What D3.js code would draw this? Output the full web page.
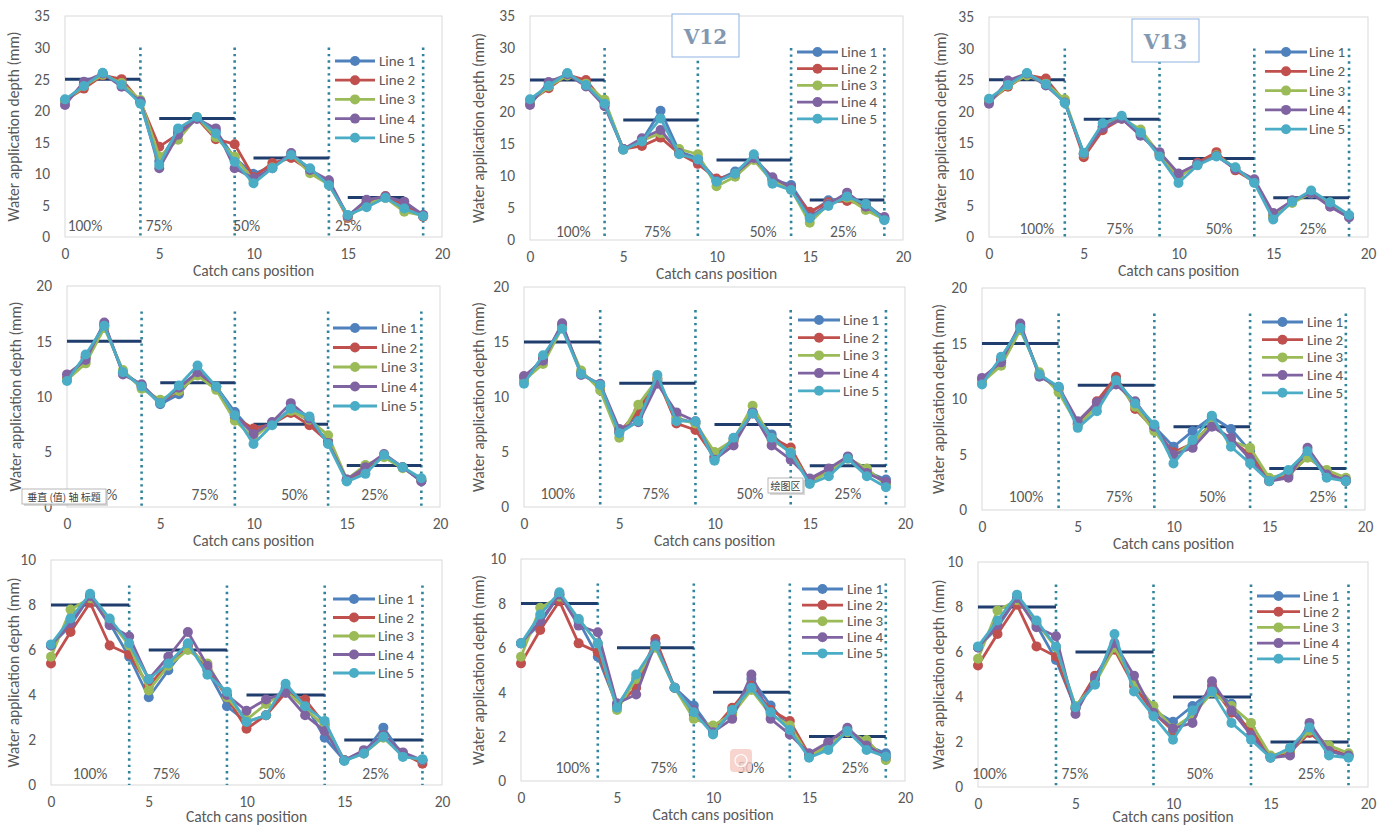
<!DOCTYPE html>
<html>
<head>
<meta charset="utf-8">
<script src="https://cdn.jsdelivr.net/npm/d3@7"></script>
<style>
  body { margin: 0; background: #fff; }
  svg { display: block; }
  text { font-family: Carlito, Calibri, Lato, "Open Sans", sans-serif; }
</style>
</head>
<body>
<div id="chart"></div>
<script>
// ---- data ----
const positions = [0, 1, 2, 3, 4, 5, 6, 7, 8, 9, 10, 11, 12, 13, 14, 15, 16, 17, 18, 19];
const seriesNames = ["Line 1", "Line 2", "Line 3", "Line 4", "Line 5"];
const zoneLabels = ["100%", "75%", "50%", "25%"];
const dividerPositions = [4, 9, 14, 19];
const panelTitles = ["", "V12", "V13", "", "", "", "", "", ""];
const yMaxByRow = [35, 20, 10];
const yTicksByRow = [[0, 5, 10, 15, 20, 25, 30, 35], [0, 5, 10, 15, 20], [0, 2, 4, 6, 8, 10]];
const xTicks = [0, 5, 10, 15, 20];
const meanDepthsByRow = [[25, 18.75, 12.5, 6.25], [15, 11.25, 7.5, 3.75], [8, 6, 4, 2]];

const depthsR1C1 = [
  [21.5, 24.2, 25.8, 24.5, 21.3, 12.0, 16.8, 18.9, 16.8, 12.5, 10.0, 11.2, 13.0, 10.6, 8.6, 3.4, 5.4, 6.3, 5.2, 3.4],
  [21.6, 23.5, 25.6, 25.0, 21.4, 14.3, 16.3, 18.8, 15.5, 14.7, 9.5, 11.7, 12.5, 10.5, 8.5, 3.0, 5.6, 6.5, 5.0, 3.2],
  [21.4, 23.9, 25.7, 24.4, 21.7, 12.7, 15.4, 19.0, 15.8, 12.7, 9.0, 11.0, 13.1, 10.1, 8.3, 3.2, 5.2, 6.2, 4.0, 3.4],
  [20.9, 24.6, 25.9, 23.8, 21.5, 10.9, 16.2, 18.7, 17.2, 10.9, 9.3, 10.9, 13.3, 10.6, 9.0, 3.3, 5.9, 6.4, 5.6, 3.5],
  [21.8, 23.9, 26.0, 24.1, 21.1, 11.4, 17.2, 19.0, 16.4, 11.9, 8.5, 10.9, 13.0, 10.9, 8.2, 3.5, 4.7, 6.2, 4.5, 3.3]
];
const depthsR1C2 = [
  [21.6, 24.2, 25.9, 24.5, 21.5, 14.2, 15.5, 20.2, 13.8, 12.8, 9.3, 10.7, 12.8, 9.4, 8.6, 4.2, 6.2, 6.5, 5.7, 3.4],
  [21.7, 23.7, 25.8, 25.0, 21.4, 14.2, 14.7, 16.0, 13.5, 11.9, 9.6, 10.2, 12.6, 9.4, 8.0, 4.4, 5.9, 6.1, 5.5, 3.3],
  [21.5, 24.0, 25.7, 24.4, 21.9, 14.1, 15.5, 16.7, 14.2, 13.4, 8.4, 9.9, 12.5, 9.2, 7.9, 2.7, 5.6, 6.6, 4.7, 3.2],
  [21.1, 24.7, 25.9, 24.0, 20.9, 14.2, 15.9, 17.2, 13.6, 12.5, 9.2, 10.4, 12.8, 9.8, 8.2, 3.6, 5.6, 7.4, 5.2, 3.6],
  [22.0, 24.1, 26.1, 24.2, 21.3, 14.1, 15.4, 19.0, 13.4, 12.6, 9.1, 10.4, 13.4, 8.8, 7.8, 3.4, 5.3, 6.8, 5.6, 3.1]
];
const depthsR1C3 = [
  [21.6, 24.3, 25.9, 24.6, 21.5, 13.1, 17.6, 18.9, 16.7, 13.2, 9.7, 11.6, 13.0, 10.9, 8.9, 3.3, 5.8, 6.9, 5.4, 3.4],
  [21.6, 23.9, 25.8, 25.2, 21.5, 12.7, 17.0, 18.8, 16.4, 13.1, 9.5, 11.8, 13.5, 10.6, 8.8, 3.2, 5.7, 7.0, 5.3, 3.3],
  [21.5, 24.1, 25.7, 24.4, 21.9, 13.2, 17.5, 18.9, 17.1, 13.2, 9.6, 11.5, 13.0, 11.0, 8.7, 3.3, 5.4, 7.0, 5.5, 3.4],
  [21.2, 24.9, 26.0, 24.1, 21.4, 13.3, 17.4, 18.8, 16.1, 13.5, 10.1, 11.6, 12.9, 10.8, 9.2, 3.8, 5.8, 7.0, 4.8, 3.1],
  [22.0, 24.2, 26.1, 24.3, 21.3, 13.4, 18.1, 19.3, 16.6, 12.8, 8.6, 11.4, 12.8, 11.1, 8.6, 2.8, 5.6, 7.4, 5.5, 3.5]
];
const depthsR2C1 = [
  [11.6, 13.6, 16.5, 12.2, 11.0, 9.3, 10.2, 12.3, 10.9, 8.6, 6.7, 7.6, 8.8, 7.8, 5.9, 2.4, 3.3, 4.6, 3.6, 2.4],
  [11.6, 13.5, 16.4, 12.2, 10.9, 9.5, 10.5, 12.0, 10.8, 8.1, 7.1, 7.5, 8.5, 7.4, 5.9, 2.4, 3.5, 4.6, 3.6, 2.4],
  [11.5, 13.0, 16.2, 12.4, 10.7, 9.7, 10.5, 11.9, 10.6, 7.8, 6.3, 7.6, 8.7, 7.9, 6.5, 2.5, 3.8, 4.5, 3.5, 2.5],
  [12.0, 13.3, 16.7, 12.0, 11.1, 9.4, 10.8, 12.2, 10.9, 8.3, 6.6, 7.7, 9.4, 8.0, 5.8, 2.5, 3.6, 4.8, 3.6, 2.3],
  [11.4, 13.8, 16.4, 12.2, 10.9, 9.4, 11.0, 12.8, 10.9, 8.3, 5.7, 7.4, 8.9, 8.2, 5.7, 2.3, 3.0, 4.7, 3.6, 2.6]
];
const depthsR2C2 = [
  [11.6, 13.6, 16.5, 12.2, 11.0, 6.9, 8.3, 11.5, 8.1, 7.6, 4.6, 6.2, 8.6, 6.6, 5.0, 2.4, 3.2, 4.5, 3.2, 2.5],
  [11.6, 13.5, 16.4, 12.2, 11.0, 6.8, 8.7, 11.7, 7.6, 7.0, 4.5, 6.0, 8.5, 6.3, 5.4, 2.3, 3.3, 4.5, 3.3, 2.2],
  [11.5, 13.0, 16.3, 12.4, 10.6, 6.3, 9.3, 11.6, 8.0, 7.6, 5.0, 6.1, 9.2, 6.1, 5.0, 2.2, 3.2, 4.4, 3.5, 2.0],
  [11.9, 13.3, 16.7, 12.0, 11.2, 7.1, 7.7, 11.2, 8.6, 7.8, 4.3, 5.6, 8.6, 5.6, 4.3, 2.6, 3.5, 4.6, 3.1, 2.3],
  [11.2, 13.8, 16.2, 12.1, 11.1, 6.7, 7.8, 12.0, 7.8, 7.8, 4.2, 6.3, 8.5, 6.3, 4.9, 2.1, 2.8, 4.4, 2.8, 1.8]
];
const depthsR2C3 = [
  [11.6, 13.6, 16.6, 12.2, 11.0, 7.8, 9.5, 11.8, 9.5, 7.5, 5.7, 7.1, 8.4, 7.3, 5.3, 2.7, 3.4, 5.0, 3.2, 2.7],
  [11.6, 13.5, 16.5, 12.2, 10.9, 7.7, 9.8, 12.0, 9.1, 7.3, 5.2, 6.0, 7.8, 6.3, 5.0, 2.6, 3.1, 4.8, 3.4, 2.6],
  [11.5, 13.0, 16.2, 12.4, 10.6, 7.6, 9.3, 11.6, 9.3, 7.1, 4.9, 6.1, 7.7, 6.2, 5.6, 2.9, 3.3, 4.7, 3.6, 2.9],
  [11.9, 13.3, 16.8, 12.0, 11.1, 8.0, 9.7, 11.3, 9.8, 7.5, 5.0, 5.6, 7.5, 6.5, 4.6, 2.6, 2.9, 5.6, 3.2, 2.7],
  [11.3, 13.8, 16.4, 12.2, 11.1, 7.4, 8.9, 11.7, 9.6, 7.7, 4.2, 6.3, 8.5, 5.7, 4.2, 2.6, 3.6, 5.3, 2.9, 2.6]
];
const depthsR3C1 = [
  [6.2, 7.1, 8.4, 7.2, 5.7, 3.9, 5.1, 6.2, 5.1, 3.5, 2.8, 3.1, 4.3, 3.6, 2.1, 1.1, 1.4, 2.55, 1.3, 1.1],
  [5.4, 6.8, 8.1, 6.2, 5.8, 4.4, 5.4, 6.2, 5.2, 3.9, 2.5, 3.1, 4.1, 3.8, 2.7, 1.1, 1.5, 2.2, 1.4, 0.95],
  [5.7, 7.8, 8.3, 7.3, 6.2, 4.2, 5.3, 6.0, 5.4, 3.9, 2.9, 3.6, 4.2, 3.4, 2.6, 1.1, 1.4, 2.1, 1.3, 1.1],
  [6.2, 7.2, 8.4, 7.1, 6.6, 4.7, 5.7, 6.8, 5.3, 4.0, 3.3, 3.8, 4.1, 3.1, 2.4, 1.1, 1.55, 2.2, 1.45, 1.1],
  [6.25, 7.4, 8.5, 7.4, 6.3, 4.7, 5.4, 6.3, 4.9, 4.15, 2.8, 3.1, 4.5, 3.5, 2.85, 1.07, 1.4, 2.15, 1.25, 1.15]
];
const depthsR3C2 = [
  [6.2, 7.1, 8.4, 7.2, 5.6, 3.4, 4.6, 6.2, 4.2, 3.4, 2.2, 3.1, 4.6, 3.4, 2.4, 1.2, 1.5, 2.3, 1.6, 1.25],
  [5.3, 6.8, 8.1, 6.2, 5.8, 3.4, 4.2, 6.4, 4.2, 3.0, 2.3, 3.3, 4.3, 3.2, 2.7, 1.2, 1.6, 2.2, 1.7, 1.0],
  [5.6, 7.8, 8.3, 7.3, 6.2, 3.2, 4.6, 6.0, 4.2, 2.8, 2.5, 3.0, 4.1, 3.0, 2.5, 1.1, 1.6, 2.2, 1.85, 0.95],
  [6.2, 7.2, 8.4, 7.0, 6.7, 3.5, 3.9, 6.2, 4.2, 3.2, 2.2, 2.8, 4.8, 2.8, 2.1, 1.25, 1.75, 2.4, 1.6, 1.1],
  [6.2, 7.5, 8.5, 7.3, 6.2, 3.3, 4.8, 6.1, 4.2, 3.1, 2.1, 3.2, 4.2, 3.1, 2.3, 1.05, 1.4, 2.25, 1.4, 1.1]
];
const depthsR3C3 = [
  [6.2, 7.1, 8.4, 7.2, 5.65, 3.5, 4.8, 6.3, 4.6, 3.4, 2.9, 3.6, 4.3, 3.7, 2.3, 1.35, 1.6, 2.6, 1.6, 1.35],
  [5.4, 6.8, 8.1, 6.25, 5.8, 3.5, 4.95, 6.1, 4.5, 3.3, 2.5, 3.2, 4.5, 3.3, 2.55, 1.35, 1.55, 2.4, 1.7, 1.4],
  [5.7, 7.85, 8.3, 7.3, 6.2, 3.6, 4.6, 6.2, 4.65, 3.6, 2.6, 3.2, 4.2, 3.6, 2.85, 1.4, 1.6, 2.5, 1.85, 1.5],
  [6.2, 7.2, 8.4, 7.1, 6.7, 3.25, 4.85, 6.4, 4.95, 3.3, 2.6, 2.85, 4.7, 3.4, 2.3, 1.3, 1.4, 2.85, 1.6, 1.4],
  [6.25, 7.4, 8.55, 7.4, 6.25, 3.55, 4.55, 6.8, 4.25, 3.15, 2.1, 3.4, 4.25, 2.85, 2.1, 1.3, 1.75, 2.65, 1.4, 1.3]
];
const panelDepths = [depthsR1C1, depthsR1C2, depthsR1C3, depthsR2C1, depthsR2C2, depthsR2C3, depthsR3C1, depthsR3C2, depthsR3C3];

// ---- layout / style ----
const W = 1391, H = 827;
const colors = ["#4F81BD", "#C0504D", "#9BBB59", "#8064A2", "#4BACC6"];
const meanColor = "#1F3D6D";
const dotColor = "#31849B";
const textColor = "#595959";
const fontFamily = "Carlito, Calibri, Lato, sans-serif";

// plot frames in pixels, legend position, where the zone labels sit (data units)
const frames = [
  {x0: 65, x1: 442, top: 16, bot: 237, ytx: 13, leg: [335, 375, 379, 61, 19.2], zx: [1.06, 4.99, 9.64, 15.03], zy: 1.9, dotTop: 30, lastBar: 18},
  {x0: 530, x1: 903, top: 16, bot: 240, ytx: 478, leg: [797, 838, 841, 52, 16.7], zx: [2.32, 6.84, 12.5, 16.8], zy: 1.3, dotTop: 30, lastBar: 19},
  {x0: 989, x1: 1368, top: 17, bot: 237, ytx: 940, leg: [1265, 1307, 1309, 52, 19.3], zx: [2.52, 6.91, 12.14, 17.1], zy: 1.4, dotTop: 30, lastBar: 19},
  {x0: 67, x1: 440, top: 286, bot: 507, ytx: 15, leg: [333, 377, 381, 328, 19.5], zx: [1.77, 7.4, 12.2, 16.5], zy: 1.1, dotTop: 17.7, lastBar: 19},
  {x0: 524, x1: 905, top: 287, bot: 507, ytx: 478, leg: [798, 840, 843, 320, 17.7], zx: [1.77, 6.93, 11.86, 17.0], zy: 1.25, dotTop: 17.9, lastBar: 19},
  {x0: 982, x1: 1365, top: 288, bot: 510, ytx: 938, leg: [1262, 1303, 1307, 322, 17.7], zx: [2.3, 7.17, 12.04, 17.8], zy: 1.2, dotTop: 17.7, lastBar: 19},
  {x0: 51, x1: 442, top: 560, bot: 785, ytx: 13, leg: [333, 375, 378, 599, 18.5], zx: [2.0, 5.9, 11.3, 16.6], zy: 0.53, dotTop: 8.87, lastBar: 19},
  {x0: 521, x1: 905, top: 559, bot: 781, ytx: 478, leg: [802, 843, 847, 589, 16.1], zx: [2.7, 7.45, 11.98, 17.4], zy: 0.59, dotTop: 8.9, lastBar: 19},
  {x0: 978, x1: 1368, top: 562, bot: 787, ytx: 938, leg: [1257, 1300, 1303, 596, 15.7], zx: [0.59, 4.97, 11.38, 17.1], zy: 0.62, dotTop: 9.0, lastBar: 19}
];
const titleBoxes = [null, {x: 672, y: 14, w: 67, h: 43}, {x: 1132, y: 19, w: 67, h: 43}];

const svg = d3.select("#chart").append("svg")
  .attr("width", W).attr("height", H);

frames.forEach((f, i) => {
  const row = Math.floor(i / 3);
  const depths = panelDepths[i];
  const x = d3.scaleLinear().domain([0, 20]).range([f.x0, f.x1]);
  const y = d3.scaleLinear().domain([0, yMaxByRow[row]]).range([f.bot, f.top]);
  const g = svg.append("g");

  // plot area frame
  g.append("rect")
    .attr("x", f.x0).attr("y", f.top)
    .attr("width", f.x1 - f.x0).attr("height", f.bot - f.top)
    .attr("fill", "none").attr("stroke", "#D9D9D9").attr("stroke-width", 1);

  // axes
  const yAxis = g.append("g")
    .attr("transform", `translate(${f.x0},0)`)
    .call(d3.axisLeft(y).tickValues(yTicksByRow[row]).tickSize(0).tickPadding(15));
  const xAxis = g.append("g")
    .attr("transform", `translate(0,${f.bot})`)
    .call(d3.axisBottom(x).tickValues(xTicks).tickSize(0).tickPadding(11));
  [yAxis, xAxis].forEach(a => {
    a.select(".domain").remove();
    a.selectAll("text").attr("fill", textColor).style("font-size", "15.5px")
      .style("font-family", fontFamily);
  });

  // axis titles
  g.append("text")
    .attr("x", (f.x0 + f.x1) / 2).attr("y", Math.min(f.bot + 39, 822))
    .attr("text-anchor", "middle").attr("fill", textColor)
    .style("font-size", "15.5px")
    .text("Catch cans position");
  g.append("text")
    .attr("transform", `translate(${f.ytx},${(f.top + f.bot) / 2}) rotate(-90)`)
    .attr("text-anchor", "middle").attr("dominant-baseline", "central")
    .attr("fill", textColor).style("font-size", "15.5px")
    .text("Water application depth (mm)");

  // dotted zone dividers
  g.selectAll("line.div").data(dividerPositions).enter().append("line")
    .attr("x1", d => x(d)).attr("x2", d => x(d))
    .attr("y1", y(f.dotTop)).attr("y2", y(0))
    .attr("stroke", dotColor).attr("stroke-width", 2.6)
    .attr("stroke-dasharray", "2.4,4");

  // zone labels
  g.selectAll("text.zone").data(zoneLabels).enter().append("text")
    .attr("x", (d, k) => x(f.zx[k])).attr("y", y(f.zy))
    .attr("text-anchor", "middle").attr("dominant-baseline", "central")
    .attr("fill", textColor).style("font-size", "15.5px")
    .text(d => d);

  // mean depth bars
  const means = meanDepthsByRow[row];
  g.selectAll("line.mean").data(means).enter().append("line")
    .attr("x1", (d, k) => x(k * 5))
    .attr("x2", (d, k) => x(k === 3 ? f.lastBar : k * 5 + 4))
    .attr("y1", d => y(d)).attr("y2", d => y(d))
    .attr("stroke", meanColor).attr("stroke-width", 3);

  // series
  const line = d3.line().x((d, k) => x(positions[k])).y(d => y(d));
  depths.forEach((vals, s) => {
    const sg = g.append("g");
    sg.append("path").datum(vals)
      .attr("d", line).attr("fill", "none")
      .attr("stroke", colors[s]).attr("stroke-width", 2.8)
      .attr("stroke-linejoin", "round");
    sg.selectAll("circle").data(vals).enter().append("circle")
      .attr("cx", (d, k) => x(positions[k])).attr("cy", d => y(d))
      .attr("r", 5).attr("fill", colors[s]);
  });

  // legend
  const [lx0, lx1, tx, ly, dy] = f.leg;
  seriesNames.forEach((name, s) => {
    const yy = ly + s * dy;
    g.append("line").attr("x1", lx0).attr("x2", lx1).attr("y1", yy).attr("y2", yy)
      .attr("stroke", colors[s]).attr("stroke-width", 2.8);
    g.append("circle").attr("cx", (lx0 + lx1) / 2).attr("cy", yy).attr("r", 5)
      .attr("fill", colors[s]);
    g.append("text").attr("x", tx).attr("y", yy).attr("dominant-baseline", "central")
      .attr("fill", textColor).style("font-size", "15px").text(name);
  });

  // title box (V12 / V13)
  const tb = titleBoxes[i];
  if (tb) {
    g.append("rect").attr("x", tb.x).attr("y", tb.y).attr("width", tb.w).attr("height", tb.h)
      .attr("fill", "#fff").attr("stroke", "#8DB3E2").attr("stroke-width", 1);
    g.append("text").attr("x", tb.x + tb.w / 2).attr("y", tb.y + tb.h / 2 + 1)
      .attr("text-anchor", "middle").attr("dominant-baseline", "central")
      .attr("fill", "#8497B0").style("font-family", "'DejaVu Serif', 'Liberation Serif', serif")
      .style("font-weight", "bold").style("font-size", "20px")
      .text(panelTitles[i]);
  }
});

// editor tooltips captured in the screenshot
function tip(x0, y0, w, h, label) {
  svg.append("rect").attr("x", x0 + 2).attr("y", y0 + 2).attr("width", w).attr("height", h)
    .attr("fill", "#BFBFBF").attr("opacity", 0.6);
  svg.append("rect").attr("x", x0).attr("y", y0).attr("width", w).attr("height", h)
    .attr("fill", "#fff").attr("stroke", "#A6A6A6").attr("stroke-width", 0.8);
  svg.append("text").attr("x", x0 + w / 2).attr("y", y0 + h / 2)
    .attr("text-anchor", "middle").attr("dominant-baseline", "central")
    .attr("fill", "#404040").style("font-family", "'Noto Sans CJK SC', sans-serif")
    .style("font-size", "10px").text(label);
}
tip(22, 489, 84, 15, "垂直 (值) 轴 标题");
tip(768, 478, 35, 15, "绘图区");

// faint pink badge in the bottom middle panel
svg.append("rect").attr("x", 730).attr("y", 749).attr("width", 22).attr("height", 23).attr("rx", 4)
  .attr("fill", "#F6C9C3").attr("opacity", 0.8);
svg.append("circle").attr("cx", 741).attr("cy", 760.5).attr("r", 6)
  .attr("fill", "none").attr("stroke", "#fff").attr("stroke-width", 1.2);
</script>
</body>
</html>
